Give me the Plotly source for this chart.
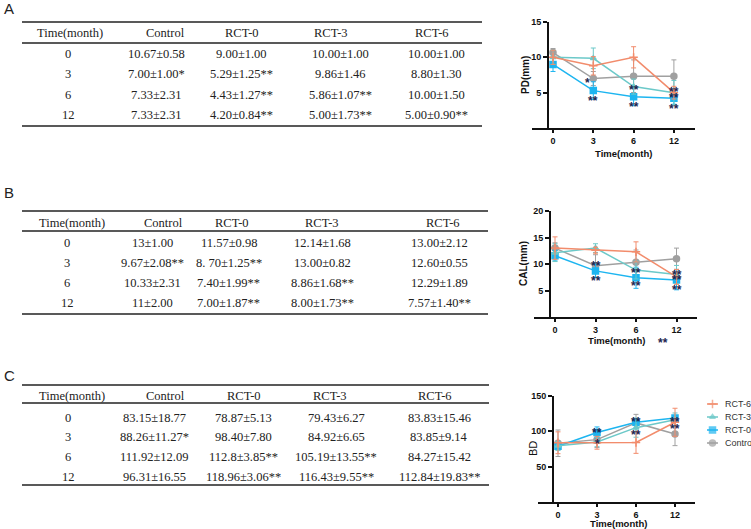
import plotly.graph_objects as go

W, H = 751, 529

time_labels = ["0", "3", "6", "12"]
groups = ["Control", "RCT-0", "RCT-3", "RCT-6"]
legend_order = ["RCT-6", "RCT-3", "RCT-0", "Control"]

# PD (mm)
pd_control = ["10.67±0.58", "7.00±1.00*", "7.33±2.31", "7.33±2.31"]
pd_rct0 = ["9.00±1.00", "5.29±1.25**", "4.43±1.27**", "4.20±0.84**"]
pd_rct3 = ["10.00±1.00", "9.86±1.46", "5.86±1.07**", "5.00±1.73**"]
pd_rct6 = ["10.00±1.00", "8.80±1.30", "10.00±1.50", "5.00±0.90**"]

# CAL (mm)
cal_control = ["13±1.00", "9.67±2.08**", "10.33±2.31", "11±2.00"]
cal_rct0 = ["11.57±0.98", "8. 70±1.25**", "7.40±1.99**", "7.00±1.87**"]
cal_rct3 = ["12.14±1.68", "13.00±0.82", "8.86±1.68**", "8.00±1.73**"]
cal_rct6 = ["13.00±2.12", "12.60±0.55", "12.29±1.89", "7.57±1.40**"]

# BD
bd_control = ["83.15±18.77", "88.26±11.27*", "111.92±12.09", "96.31±16.55"]
bd_rct0 = ["78.87±5.13", "98.40±7.80", "112.8±3.85**", "118.96±3.06**"]
bd_rct3 = ["79.43±6.27", "84.92±6.65", "105.19±13.55**", "116.43±9.55**"]
bd_rct6 = ["83.83±15.46", "83.85±9.14", "84.27±15.42", "112.84±19.83**"]

# significance marks drawn on the charts: (time, y value, text, xshift)
pd_stars = [("3", 7.0, "*", -6), ("3", 4.4, "**", 0), ("6", 5.9, "**", 0),
            ("6", 3.6, "**", 0), ("12", 5.7, "**", 0), ("12", 4.8, "**", 0),
            ("12", 3.3, "**", 0)]
cal_stars = [("3", 10.4, "**", 0), ("3", 7.6, "**", 0), ("6", 9.0, "**", 0),
             ("6", 6.6, "**", 0), ("12", 8.7, "**", 0), ("12", 7.8, "**", 0),
             ("12", 5.9, "**", 0)]
bd_stars = [("3", 103, "**", 0), ("3", 88, "*", 0), ("6", 119, "**", 0),
            ("6", 101, "**", 0), ("12", 119, "**", 0), ("12", 109, "**", 0)]

colors = {"RCT-6": "#F28C6C", "RCT-3": "#6CC9C9", "RCT-0": "#1DB5F0", "Control": "#A0A0A0"}
symbols = {"RCT-6": "cross-thin", "RCT-3": "triangle-up", "RCT-0": "square", "Control": "circle"}


def px(x):
    return x / W


def py(y):
    return 1 - y / H


def parse(vals):
    means, sds = [], []
    for v in vals:
        m, s = v.replace(" ", "").rstrip("*").split("±")
        means.append(float(m))
        sds.append(float(s))
    return means, sds


fig = go.Figure()
annotations = []
shapes = []

serif = dict(family="Liberation Serif", size=12.5, color="#222")
starfont = dict(family="Liberation Sans", size=12, color="#1d2550", weight="bold")


def note(x, y, text, font, **kw):
    d = dict(x=px(x), y=py(y), xref="paper", yref="paper", text=text, showarrow=False,
             xanchor="center", yanchor="middle", font=font)
    d.update(kw)
    annotations.append(d)


def add_table(label, label_y, top, head_y, under, rows_y, bottom, right, head_x, data_x, cols):
    note(9, label_y, label, dict(family="Liberation Sans", size=15, color="#222"))
    for yy in (top, under, bottom):
        shapes.append(dict(type="line", xref="paper", yref="paper", x0=px(22), x1=px(right),
                           y0=py(yy), y1=py(yy), line=dict(color="#222", width=1.5)))
    heads = ["Time(month)"] + groups
    for hx, h in zip(head_x, heads):
        note(hx, head_y, h, serif)
    columns = [time_labels] + cols
    for cx, col in zip(data_x, columns):
        for ry, v in zip(rows_y, col):
            note(cx, ry, v, serif)


add_table("A", 8, 22, 33, 43, [54, 74, 95, 115], 126, 482,
          [70, 165, 242, 331, 432], [68, 156, 241, 340, 436],
          [pd_control, pd_rct0, pd_rct3, pd_rct6])
add_table("B", 192, 211, 223, 231, [243, 263, 283, 303], 314, 488,
          [72, 163, 232, 322, 443], [67, 152, 229, 322, 440],
          [cal_control, cal_rct0, cal_rct3, cal_rct6])
add_table("C", 375, 385, 396, 403, [418, 437, 457, 477], 485, 489,
          [72, 165, 244, 330, 435], [68, 154, 243, 336, 439],
          [bd_control, bd_rct0, bd_rct3, bd_rct6])

tickfont = dict(family="Liberation Sans", size=9, color="#111", weight="bold")
layout_axes = {}


def add_chart(n, data, ytitle, ytitle_x, ytitle_bold, pos0, sp, left, right, yx,
              ytop, ybot, ymax, yticks, xtitle_x, xtitle_y, stars):
    xa = "x" if n == 1 else f"x{n}"
    ya = "y" if n == 1 else f"y{n}"
    for g in groups:
        m, s = parse(data[g])
        fig.add_trace(go.Scatter(
            x=time_labels, y=m, name=g, xaxis=xa, yaxis=ya, mode="lines+markers",
            line=dict(color=colors[g], width=1.5),
            marker=dict(symbol=symbols[g], size=6 if g != "RCT-3" else 5, color=colors[g],
                        line=dict(color=colors[g], width=1.5)),
            error_y=dict(type="data", array=s, color=colors[g], thickness=1, width=2.5),
            showlegend=False))
    layout_axes["xaxis" if n == 1 else f"xaxis{n}"] = dict(
        type="category", domain=[px(left), px(right)],
        range=[(left - pos0) / sp, (right - pos0) / sp], anchor=ya,
        showline=True, linecolor="#111", linewidth=2, ticks="outside", ticklen=3,
        tickwidth=1.5, tickcolor="#111", tickfont=tickfont, showgrid=False, zeroline=False)
    layout_axes["yaxis" if n == 1 else f"yaxis{n}"] = dict(
        domain=[py(ybot), py(ytop)], range=[0, ymax], anchor="free", position=px(yx),
        showline=True, linecolor="#111", linewidth=2, ticks="outside", ticklen=4,
        tickwidth=1.5, tickcolor="#111", tickvals=yticks, tickfont=tickfont,
        showgrid=False, zeroline=False)
    note(xtitle_x, xtitle_y, "Time(month)",
         dict(family="Liberation Sans", size=9.5, color="#111", weight="bold"))
    note(ytitle_x, (ytop + ybot) / 2, ytitle,
         dict(family="Liberation Sans", size=10 if ytitle_bold else 11, color="#111",
              weight="bold" if ytitle_bold else "normal"), textangle=-90)
    for t, yv, txt, xs in stars:
        annotations.append(dict(x=time_labels.index(t), y=yv, xref=xa, yref=ya, text=txt,
                                showarrow=False, xanchor="center", yanchor="middle",
                                xshift=xs, yshift=-4, font=starfont))


add_chart(1, {"Control": pd_control, "RCT-0": pd_rct0, "RCT-3": pd_rct3, "RCT-6": pd_rct6},
          "PD(mm)", 525, True, 553, 40.3, 532, 695, 548, 22, 128, 15, [5, 10, 15], 623, 153,
          pd_stars)
add_chart(2, {"Control": cal_control, "RCT-0": cal_rct0, "RCT-3": cal_rct3, "RCT-6": cal_rct6},
          "CAL(mm)", 523, True, 555, 40.5, 534, 697, 550, 211, 317, 20, [5, 10, 15, 20], 616, 340,
          cal_stars)
add_chart(3, {"Control": bd_control, "RCT-0": bd_rct0, "RCT-3": bd_rct3, "RCT-6": bd_rct6},
          "BD", 533, False, 558, 39, 538, 695, 553, 396, 502, 150, [50, 100, 150], 618, 523.5,
          bd_stars)

# stray mark below the CAL chart
note(663, 343, "**", starfont)

# hand-drawn legend for the BD chart (short keys, tight rows)
for i, g in enumerate(legend_order):
    fig.add_trace(go.Scatter(
        x=[0, 0.5, 1], y=[i, i, i], xaxis="x4", yaxis="y4", mode="lines+markers",
        line=dict(color=colors[g], width=1.5),
        marker=dict(symbol=symbols[g], size=[0, 6 if g != "RCT-3" else 5, 0], color=colors[g],
                    line=dict(color=colors[g], width=1.5)),
        showlegend=False, hoverinfo="skip"))
    note(723, 404 + 13 * i, g, dict(family="Liberation Sans", size=9, color="#333"),
         xanchor="left")
layout_axes["xaxis4"] = dict(domain=[px(707), px(718)], range=[0, 1], visible=False, anchor="y4")
layout_axes["yaxis4"] = dict(domain=[py(449.5), py(397.5)], range=[3.5, -0.5], visible=False,
                             anchor="x4")

fig.update_layout(
    width=W, height=H, margin=dict(l=0, r=0, t=0, b=0, autoexpand=False),
    paper_bgcolor="white", plot_bgcolor="white", showlegend=False,
    annotations=annotations, shapes=shapes,
    **layout_axes,
)

fig.write_html("out.html", config={"displayModeBar": False},
               post_script="document.body.style.margin='0';")
